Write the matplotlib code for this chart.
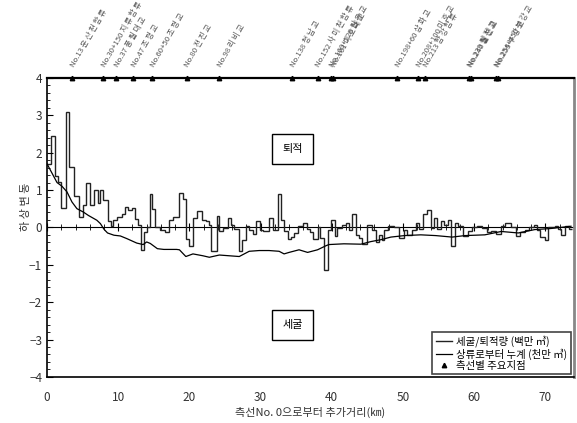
import numpy as np
import matplotlib
matplotlib.use("Agg")
import matplotlib.pyplot as plt
from matplotlib.ticker import MultipleLocator, NullFormatter

plt.rcParams["font.family"] = ["Noto Sans CJK KR", "DejaVu Sans"]
plt.rcParams["axes.unicode_minus"] = True

# 세굴/퇴적량 (백만 m3) - 구간 경계(km)와 값
seg_edges = [0, 0.5, 1.1, 1.5, 2.0, 2.6, 3.1, 3.8, 4.5, 5.0,
             5.5, 6.1, 6.6, 7.2, 7.5, 7.8, 8.5, 9.0, 9.3, 9.8,
             10.5, 10.9, 11.4, 12.0, 12.4, 12.8, 13.2, 13.6, 14.0, 14.5,
             14.8, 15.1, 15.8, 16.6, 17.1, 17.7, 18.5, 19.1, 19.5, 20.0,
             20.5, 21.1, 21.7, 22.3, 22.7, 23.1, 23.9, 24.2, 24.7, 25.4,
             25.9, 26.3, 26.9, 27.4, 28.0, 28.4, 28.9, 29.4, 29.9, 30.3,
             31.2, 31.8, 32.4, 32.9, 33.3, 33.8, 34.3, 34.7, 35.2, 35.9,
             36.5, 37.0, 37.4, 38.0, 38.4, 38.9, 39.4, 39.9, 40.4, 40.8,
             41.4, 42.0, 42.4, 42.9, 43.4, 43.8, 44.3, 45.0, 45.7, 46.2,
             46.6, 47.0, 47.4, 47.9, 48.7, 49.4, 50.1, 50.6, 51.3, 51.8,
             52.2, 52.8, 53.4, 53.9, 54.3, 54.8, 55.3, 55.7, 56.3, 56.8,
             57.3, 57.7, 58.5, 59.1, 59.7, 60.4, 61.1, 61.8, 62.4, 63.1,
             63.7, 64.3, 65.2, 65.9, 66.5, 67.2, 67.7, 68.4, 68.8, 69.3,
             69.9, 70.4, 70.9, 71.4, 71.8, 72.2, 72.8, 73.3, 73.8]
seg_values = [1.7, 2.44, 1.37, 1.21, 0.53, 3.09, 1.62, 0.84, 0.28, 0.6,
              1.19, 0.6, 1.0, 0.65, 1.0, 0.72, 0.17, 0.03, 0.2, 0.28,
              0.37, 0.55, 0.47, 0.52, 0.23, 0.05, -0.6, -0.12, 0.0, 0.9,
              0.5, 0.0, -0.08, -0.12, 0.2, 0.27, 0.92, 0.76, -0.31, -0.51,
              0.25, 0.43, 0.2, 0.16, 0.07, -0.62, 0.31, -0.11, -0.02, 0.25,
              0.07, -0.04, -0.62, -0.33, 0.03, -0.06, -0.17, 0.16, -0.06, -0.09,
              0.25, -0.06, 0.88, 0.2, -0.1, -0.31, -0.26, -0.15, 0.04, 0.12,
              -0.04, -0.13, -0.31, 0.01, -0.29, -1.13, -0.06, 0.19, -0.22, -0.02,
              0.07, 0.12, -0.06, 0.36, -0.2, -0.29, -0.44, 0.07, -0.06, -0.38,
              -0.2, -0.33, -0.06, 0.04, 0.0, -0.29, -0.06, -0.2, -0.06, 0.13,
              -0.04, 0.36, 0.46, -0.02, 0.25, -0.04, 0.16, 0.07, 0.2, -0.49,
              0.13, 0.03, -0.24, -0.11, 0.01, 0.04, -0.02, -0.13, -0.11, -0.17,
              0.04, 0.13, 0.0, -0.22, -0.13, -0.06, 0.01, 0.07, -0.06, -0.26,
              -0.35, 0.01, 0.02, 0.04, -0.04, -0.2, 0.04, -0.04]

# 상류로부터 누계 (천만 m3)
cum_km = [0, 0.7, 1.4, 2.1, 2.8, 3.5, 4.2, 5.1, 5.8, 7.0, 7.5, 8.0, 8.5,
          9.4, 10.3, 11.2, 12.6, 13.5, 14.0, 14.5, 15.5, 16.4, 18.2, 18.6,
          19.5, 20.5, 21.9, 22.8, 24.2, 25.6, 27.0, 28.4, 29.8, 31.2, 32.6,
          33.3, 34.0, 35.4, 36.6, 38.0, 39.2, 39.6, 41.7, 44.1, 45.5, 46.9,
          48.3, 50.2, 52.5, 54.6, 56.9, 58.7, 61.5, 63.8, 66.2, 68.5, 70.8, 73.6]
cum_val = [1.7, 1.45, 1.2, 1.1, 0.95, 0.68, 0.5, 0.41, 0.32, 0.19, 0.1, -0.05, -0.15,
           -0.21, -0.23, -0.3, -0.42, -0.46, -0.39, -0.43, -0.57, -0.59, -0.59, -0.6,
           -0.78, -0.71, -0.76, -0.8, -0.74, -0.76, -0.78, -0.64, -0.62, -0.62, -0.64,
           -0.71, -0.67, -0.6, -0.67, -0.6, -0.49, -0.46, -0.44, -0.45, -0.38, -0.33,
           -0.26, -0.22, -0.2, -0.22, -0.26, -0.22, -0.2, -0.11, -0.15, -0.06, -0.03, 0.03]

# 측선별 주요지점
point_km = [3.55, 7.9, 9.7, 12.1, 14.8, 19.6, 24.2, 34.4, 38.0, 39.9,
            40.2, 49.2, 52.1, 53.1, 59.3, 59.5, 63.1, 63.3]
point_names = ["No.13 운 산 천 합 류", "No.30+150 지 류 합 류", "No.37 풍 월 대 교",
               "No.47 초 평 교", "No.60+50 초 평 교", "No.80 전 진 교",
               "No.98 리 비 교", "No.138 청 남 교", "No.152 사 미 천 합 류",
               "No.160+120 월 유 교", "No.161 미 호 대 교", "No.198+60 삼 화 교",
               "No.208+100 미 호 교", "No.213 합 강 합 류", "No.239 월 전 교",
               "No.240 월 천 교", "No.254+150 부 강 교", "No.255 부 강 교"]

fig = plt.figure(figsize=(5.77, 4.23), dpi=100)
ax = fig.add_axes([0.0815, 0.109, 0.913, 0.707])

ax.stairs(seg_values, seg_edges, baseline=None, color="#222222", linewidth=1.0,
          label="세굴/퇴적량 (백만 ㎥)")
ax.plot(cum_km, cum_val, color="black", linewidth=0.9, label="상류로부터 누계 (천만 ㎥)")
ax.plot(point_km, [4] * len(point_km), "^", color="black", markersize=3.2,
        linestyle="none", clip_on=False, zorder=5, label="측선별 주요지점")

for km, name in zip(point_km, point_names):
    ax.text(km, 4.3, name, rotation=60, rotation_mode="anchor", ha="left", va="center",
            fontsize=5.6, color="#555555")

ax.set_xlim(0, 74)
ax.set_ylim(-4, 4)
ax.xaxis.set_major_locator(MultipleLocator(10))
ax.yaxis.set_major_locator(MultipleLocator(1))
ax.yaxis.set_minor_locator(MultipleLocator(0.2))
ax.tick_params(axis="x", length=0, labelsize=8.5, labelcolor="#333333", pad=10)
ax.tick_params(axis="y", which="major", direction="in", length=4, labelsize=8.5,
               labelcolor="#333333")
ax.tick_params(axis="y", which="minor", direction="in", length=2)

# 0 기준선과 눈금
zero = ax.secondary_xaxis(0.5)
zero.xaxis.set_major_locator(MultipleLocator(10))
zero.xaxis.set_minor_locator(MultipleLocator(2))
zero.xaxis.set_major_formatter(NullFormatter())
zero.xaxis.set_minor_formatter(NullFormatter())
zero.tick_params(which="major", direction="inout", length=6)
zero.tick_params(which="minor", direction="inout", length=4)
zero.spines["bottom"].set_linewidth(0.9)

ax.spines["top"].set_linewidth(1.6)
ax.spines["bottom"].set_linewidth(1.2)
ax.spines["left"].set_linewidth(1.2)
ax.spines["right"].set_color("#888888")
ax.spines["right"].set_linewidth(2)

ax.text(34.5, 2.1, "퇴적", ha="center", va="center", fontsize=8,
        bbox=dict(boxstyle="square,pad=0.9", fc="white", ec="black", lw=1))
ax.text(34.5, -2.6, "세굴", ha="center", va="center", fontsize=8,
        bbox=dict(boxstyle="square,pad=0.9", fc="white", ec="black", lw=1))

ax.set_xlabel("측선No. 0으로부터 추가거리(㎞)", fontsize=8, color="#333333", labelpad=2)
ax.set_ylabel("하 상 변 동", fontsize=8, color="#333333")
ax.yaxis.set_label_coords(-0.03, 0.57)

leg = ax.legend(loc="lower right", bbox_to_anchor=(1.0, 0.0), borderaxespad=0.3,
                fontsize=7.5, handlelength=1.6, handletextpad=0.4, labelspacing=0.1,
                borderpad=0.3, fancybox=False, framealpha=1)
leg.get_frame().set_edgecolor("#444444")
leg.get_frame().set_linewidth(1.2)

fig.savefig("out.png", dpi=100)
